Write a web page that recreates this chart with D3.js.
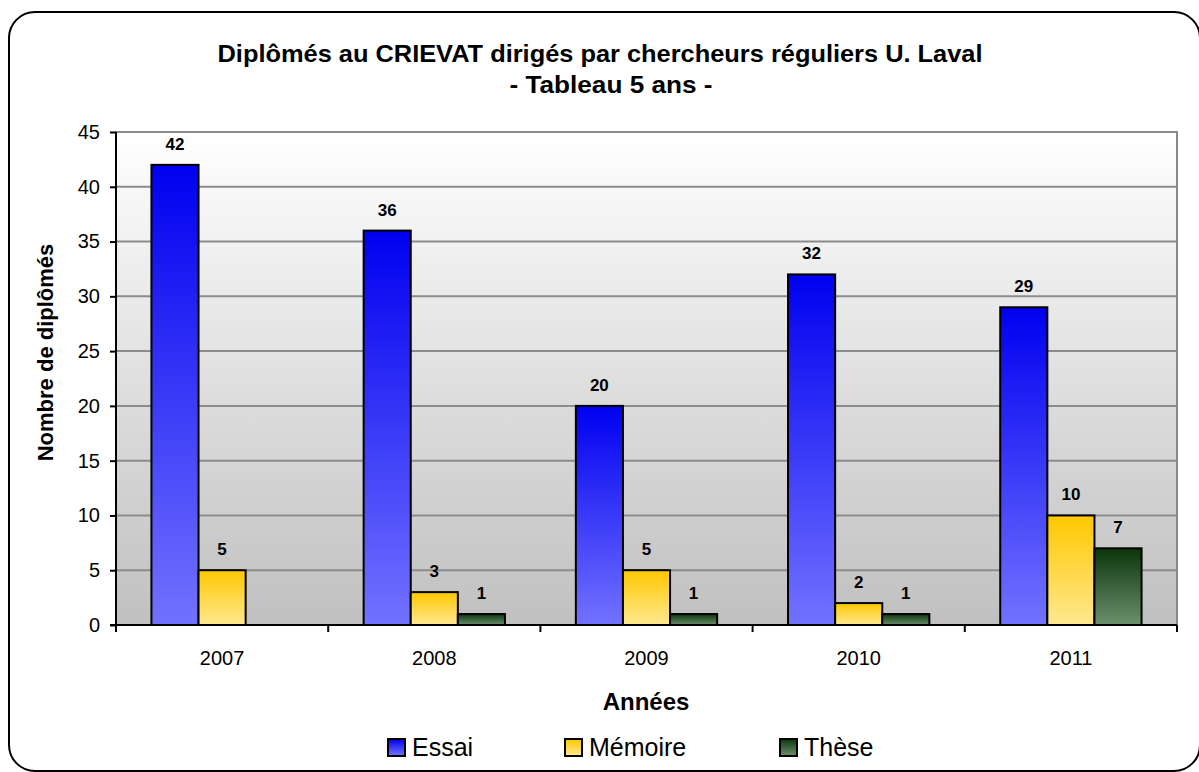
<!DOCTYPE html>
<html>
<head>
<meta charset="utf-8">
<script src="https://cdn.jsdelivr.net/npm/d3@7"></script>
<style>
  body { margin: 0; background: #fff; }
  svg { display: block; font-family: "Liberation Sans", Arial, sans-serif; }
</style>
</head>
<body>
<div id="chart"></div>
<script>
const years = ["2007", "2008", "2009", "2010", "2011"];
const seriesNames = ["Essai", "Mémoire", "Thèse"];
const essai = [42, 36, 20, 32, 29];
const memoire = [5, 3, 5, 2, 10];
const these = [0, 1, 1, 1, 7];
const yTicks = [0, 5, 10, 15, 20, 25, 30, 35, 40, 45];

const width = 1199, height = 772;
const margin = { top: 132, right: 22, bottom: 147, left: 116 };

const svg = d3.select("#chart").append("svg")
  .attr("width", width)
  .attr("height", height);

const defs = svg.append("defs");

function vGrad(id, top, bottom) {
  const g = defs.append("linearGradient")
    .attr("id", id).attr("x1", 0).attr("y1", 0).attr("x2", 0).attr("y2", 1);
  g.append("stop").attr("offset", "0%").attr("stop-color", top);
  g.append("stop").attr("offset", "100%").attr("stop-color", bottom);
}
vGrad("bg", "#ffffff", "#c0c0c0");
vGrad("g0", "#0000f0", "#7272ff");
vGrad("g1", "#ffc800", "#ffe890");
vGrad("g2", "#0c360c", "#6c8f6c");

// outer rounded frame
svg.append("rect")
  .attr("x", 9).attr("y", 12)
  .attr("width", 1191).attr("height", 759)
  .attr("rx", 26).attr("ry", 26)
  .attr("fill", "#fff")
  .attr("stroke", "#000")
  .attr("stroke-width", 2);

const x0 = d3.scaleBand()
  .domain(years)
  .range([margin.left, width - margin.right])
  .paddingInner(0.334)
  .paddingOuter(0.167);

const x1 = d3.scaleBand()
  .domain(seriesNames)
  .range([0, x0.bandwidth()]);

const xOuter = d3.scaleBand()
  .domain(years)
  .range([margin.left, width - margin.right]);

const y = d3.scaleLinear()
  .domain([0, 45])
  .range([height - margin.bottom, margin.top]);

const plotW = width - margin.right - margin.left;
const plotH = y(0) - y(45);

// plot background
svg.append("rect")
  .attr("x", margin.left).attr("y", y(45))
  .attr("width", plotW).attr("height", plotH)
  .attr("fill", "url(#bg)")
  .attr("stroke", "#888")
  .attr("stroke-width", 2);

// gridlines
svg.append("g")
  .selectAll("line")
  .data(yTicks.filter(d => d > 0))
  .join("line")
  .attr("x1", margin.left).attr("x2", width - margin.right)
  .attr("y1", d => y(d)).attr("y2", d => y(d))
  .attr("stroke", "#8c8c8c")
  .attr("stroke-width", 2);

// bars
const data = years.map((yr, i) => ({
  year: yr,
  values: [
    { key: "Essai", idx: 0, value: essai[i] },
    { key: "Mémoire", idx: 1, value: memoire[i] },
    { key: "Thèse", idx: 2, value: these[i] },
  ],
}));

const groups = svg.append("g")
  .selectAll("g")
  .data(data)
  .join("g")
  .attr("transform", d => `translate(${x0(d.year)},0)`);

groups.selectAll("rect")
  .data(d => d.values.filter(v => v.value > 0))
  .join("rect")
  .attr("x", d => x1(d.key))
  .attr("y", d => y(d.value))
  .attr("width", x1.bandwidth())
  .attr("height", d => y(0) - y(d.value))
  .attr("fill", d => `url(#g${d.idx})`)
  .attr("stroke", "#000")
  .attr("stroke-width", 2);

groups.selectAll("text")
  .data(d => d.values.filter(v => v.value > 0))
  .join("text")
  .attr("x", d => x1(d.key) + x1.bandwidth() / 2)
  .attr("y", d => y(d.value) - 15)
  .attr("text-anchor", "middle")
  .attr("font-size", 17)
  .attr("font-weight", "bold")
  .text(d => d.value);

// y axis
const yAxis = svg.append("g")
  .attr("transform", `translate(${margin.left},0)`)
  .call(d3.axisLeft(y).tickValues(yTicks).tickSize(6).tickPadding(10));
yAxis.select(".domain").attr("stroke", "#000").attr("stroke-width", 2)
  .attr("d", `M0,${y(0) + 6}V${y(45)}`);
yAxis.selectAll(".tick line").attr("stroke", "#000").attr("stroke-width", 2);
yAxis.selectAll(".tick text")
  .attr("font-size", 20)
  .attr("font-family", "Liberation Sans, Arial, sans-serif")
  .attr("fill", "#000");

// x axis: ticks at category boundaries
const xAxisG = svg.append("g");
xAxisG.append("line")
  .attr("x1", margin.left - 6).attr("x2", width - margin.right)
  .attr("y1", y(0)).attr("y2", y(0))
  .attr("stroke", "#000").attr("stroke-width", 2);
xAxisG.selectAll(".xt")
  .data(years.concat(["end"]))
  .join("line")
  .attr("class", "xt")
  .attr("x1", (d, i) => i < years.length ? xOuter(d) : width - margin.right)
  .attr("x2", (d, i) => i < years.length ? xOuter(d) : width - margin.right)
  .attr("y1", y(0)).attr("y2", y(0) + 7)
  .attr("stroke", "#000").attr("stroke-width", 2);
xAxisG.selectAll(".xl")
  .data(years)
  .join("text")
  .attr("class", "xl")
  .attr("x", d => xOuter(d) + xOuter.bandwidth() / 2)
  .attr("y", y(0) + 40)
  .attr("text-anchor", "middle")
  .attr("font-size", 20)
  .text(d => d);

// titles
const title = svg.append("text")
  .attr("x", 600).attr("y", 62)
  .attr("text-anchor", "middle")
  .attr("font-size", 24)
  .attr("font-weight", "bold");
title.append("tspan").attr("x", 600)
  .attr("textLength", 765).attr("lengthAdjust", "spacingAndGlyphs")
  .text("Diplômés au CRIEVAT dirigés par chercheurs réguliers U. Laval");
title.append("tspan").attr("x", 611).attr("dy", 31)
  .attr("textLength", 203).attr("lengthAdjust", "spacingAndGlyphs")
  .text("- Tableau 5 ans -");

svg.append("text")
  .attr("x", 646).attr("y", 710)
  .attr("text-anchor", "middle")
  .attr("font-size", 24)
  .attr("font-weight", "bold")
  .text("Années");

svg.append("text")
  .attr("transform", `translate(53,${(y(0) + y(45)) / 2 - 26}) rotate(-90)`)
  .attr("text-anchor", "middle")
  .attr("font-size", 22)
  .attr("font-weight", "bold")
  .text("Nombre de diplômés");

// legend
const legendX = [388, 565, 780];
const legend = svg.append("g")
  .selectAll("g")
  .data(seriesNames)
  .join("g")
  .attr("transform", (d, i) => `translate(${legendX[i]},739)`);
legend.append("rect")
  .attr("width", 17).attr("height", 17)
  .attr("fill", (d, i) => `url(#g${i})`)
  .attr("stroke", "#000").attr("stroke-width", 2);
legend.append("text")
  .attr("x", 24).attr("y", 17)
  .attr("font-size", 25)
  .text(d => d);
</script>
</body>
</html>
